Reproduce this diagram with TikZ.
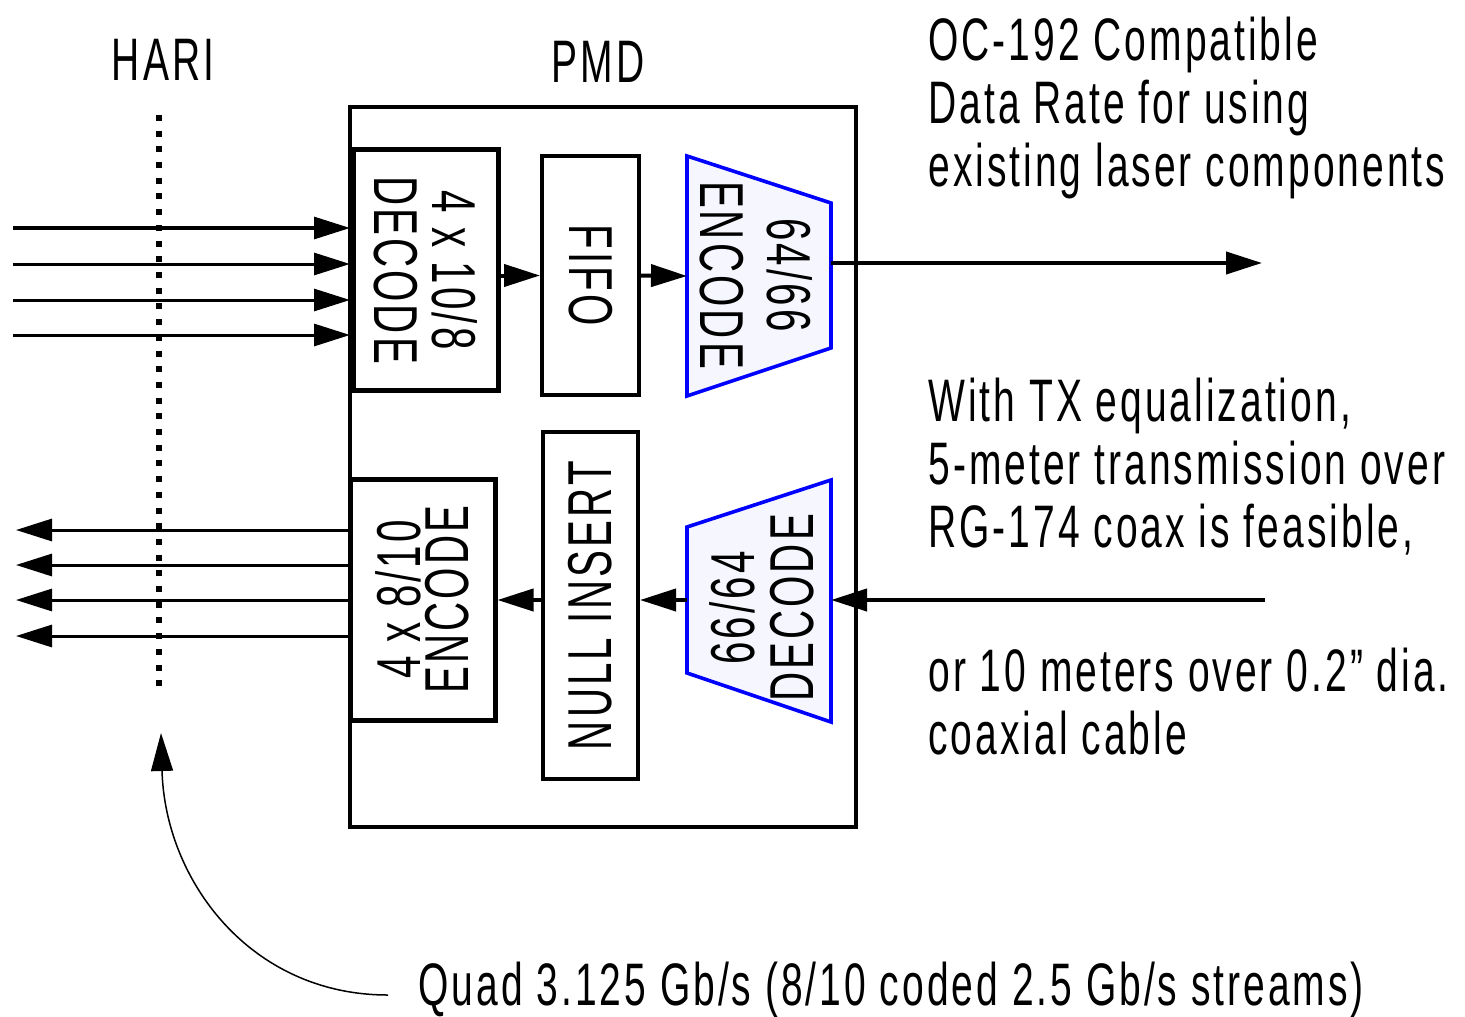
\documentclass[tikz,border=0pt]{standalone}
\usepackage{fontspec}
\setmainfont{Liberation Sans}[FakeStretch=0.65,LetterSpace=5]
\usepackage{tikz}
\usetikzlibrary{arrows.meta}
\definecolor{trapfill}{RGB}{246,246,255}

\begin{document}
\begin{tikzpicture}[x=0.5pt,y=0.5pt,yscale=-1,xscale=1,
  every node/.style={inner sep=0pt,font=\fontsize{30}{31.5}\selectfont},
  blk/.style={draw,line width=2pt,minimum width=#1},
  arr/.style={line width=1.5pt,-{Triangle[length=18pt,width=11pt]}},
  flow/.style={line width=2pt,-{Triangle[length=18pt,width=11pt]}},
  trap/.style={draw=blue,fill=trapfill,line width=1.8pt}]
\useasboundingbox (0,0) rectangle (1465,1016);

%Shape: Rectangle [PMD]
\draw[line width=2pt] (350,107) rectangle (856,827);

%Shape: Rectangle [decode 10/8]
\node (dec) [blk=120pt,line width=2.5pt,minimum height=72.5pt,rotate=-90,align=center,
  font=\fontsize{31}{29}\selectfont] at (425.5,270) {4 x 10/8\\DECODE};
%Shape: Rectangle [fifo]
\node (fifo) [blk=119.5pt,minimum height=48.5pt,rotate=-90,font=\fontsize{31}{29}\selectfont] at (590.5,275.5) {FIFO};
%Shape: Polygon [encode 64/66]
\draw[trap] (687,156) -- (831,203) -- (831,348) -- (687,396) -- cycle;
\node (enc) [rotate=-90,align=center,font=\fontsize{31}{33.5}\selectfont] at (756,275) {64/66\\ENCODE};

%Shape: Rectangle [encode 8/10]
\node (enc10) [blk=120.5pt,line width=2.5pt,minimum height=72.5pt,rotate=90,align=center,
  font=\fontsize{31}{24}\selectfont] at (422.5,599.5) {4 x 8/10\\ENCODE};
%Shape: Rectangle [null insert]
\node (null) [blk=173.5pt,minimum height=47.5pt,rotate=90,font=\fontsize{31}{29}\selectfont] at (590.5,605.5) {NULL INSERT};
%Shape: Polygon [decode 66/64]
\draw[trap] (687,527) -- (831,480) -- (831,722) -- (687,673) -- cycle;
\node (dec66) [rotate=90,align=center,font=\fontsize{31}{29.5}\selectfont] at (762,608) {66/64\\DECODE};

%Coordinates
\coordinate (encin) at (687,276);
\coordinate (encout) at (831,263);
\coordinate (txout) at (1262,263);
\coordinate (rxin) at (1265,600);
\coordinate (d66r) at (831,600);
\coordinate (d66l) at (687,600);
\coordinate (hariT) at (159,115);
\coordinate (hariB) at (159,688);
\coordinate (quadS) at (388,995);
\coordinate (quadE) at (161,733);

%Straight Lines [HARI]
\draw[line width=3pt,dash pattern=on 3pt off 4.85pt] (hariT) -- (hariB);

%Straight Lines [lanes in]
\foreach \y in {228,264,300,335}
  \draw[arr] (13,\y) -- (350,\y);
%Straight Lines [lanes out]
\foreach \y in {530,565,600,636}
  \draw[arr] (enc10.north |- 0,\y) -- (16,\y);

%Straight Lines [flow]
\draw[flow] (fifo.south -| dec.north) -- (fifo.south);
\draw[flow] (fifo.north) -- (encin);
\draw[flow] (encout) -- (txout);
\draw[flow] (rxin) -- (d66r);
\draw[flow] (d66l) -- (d66l -| null.south);
\draw[flow] (d66l -| null.north) -- (d66l -| enc10.south);

%Curve Lines
\draw[line width=0.75pt,-{Triangle[length=19pt,width=11pt]}] (quadS) .. controls (250,995) and (165,880) .. (quadE);

% Text Node
\node (hari) at (163,60) {HARI};
% Text Node
\node (pmd) at (598,62) {PMD};
% Text Node
\node (rate) [anchor=north west,align=left] at (928,17) {OC-192 Compatible\\Data Rate for using\\existing laser components};
% Text Node
\node (coax) [anchor=north west,align=left] at (928,378) {With TX equalization,\\5-meter transmission over\\RG-174 coax is feasible,};
% Text Node
\node (cable) [anchor=north west,align=left] at (928,648) {or 10 meters over 0.2” dia.\\coaxial cable};
% Text Node
\node (quad) [anchor=base west] at (418,1005) {Quad 3.125 Gb/s (8/10 coded 2.5 Gb/s streams)};

\end{tikzpicture}
\end{document}
